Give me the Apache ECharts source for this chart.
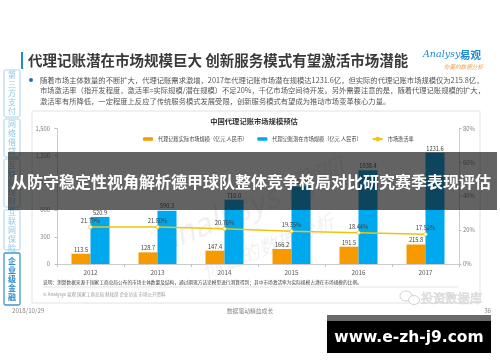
<!DOCTYPE html>
<html><head><meta charset="utf-8">
<script src="https://cdn.jsdelivr.net/npm/echarts/dist/echarts.min.js"></script>
<style>html,body{margin:0;padding:0;background:#fff}#c{width:500px;height:362px}</style>
</head><body><div id="c"></div>
<script>
// ---- data ----
const years = ['2012', '2013', '2014', '2015', '2016', '2017'];
const actualSize = [113.5, 128.7, 147.4, 166.2, 191.5, 215.8];
const potentialSize = [520.9, 590.3, 710.0, 858.9, 1038.4, 1231.6];
const activationRate = [21.79, 21.80, 20.76, 19.35, 18.44, 17.52];
const seriesNames = ['代理记账实际市场规模（亿元 人民币）', '代理记账潜在市场规模（亿元 人民币）', '市场激活率'];
const chartTitle = '中国代理记账市场规模预估';
const pageTitle = '代理记账潜在市场规模巨大 创新服务模式有望激活市场潜能';
const bulletLines = [
  '随着市场主体数量的不断扩大，代理记账需求激增，2017年代理记账市场潜在规模达1231.6亿，但实际的代理记账市场规模仅为215.8亿，',
  '市场激活率（指开发程度，激活率=实际规模/潜在规模）不足20%，千亿市场空间待开发。另外需要注意的是，随着代理记账规模的扩大，',
  '激活率有所降低，一定程度上反应了传统服务模式发展受限，创新服务模式有望成为推动市场变革核心力量。'
];
const sideMenu = ['第三方支付', '网络借贷', '互联网理财', '互联网保险', '企业级金融'];
const noteText = '说明：测算数据来源于国家工商总局公布的市场主体数量及结构，通过期现方法论模型进行测算得到；其中市场激活率为实际规模占潜在市场规模的比例。';
const sourceText = '© Analysys 易观 国家工商总局 财政部 企业访谈 市场公开资料';
const footerDate = '2018/10/29';
const footerSlogan = '数据驱动精益成长';
const pageNo = '36';
const bannerText = '从防守稳定性视角解析德甲球队整体竞争格局对比研究赛季表现评估';
const siteText = 'www.e-zh-j9.com';

const F = '"Noto Sans CJK SC","Noto Sans",sans-serif';
const ORANGE = '#F79A00', BLUE = '#00A8EE', YELLOW = '#F4C20D';

const chart = echarts.init(document.getElementById('c'), null, {renderer: 'canvas'});

const g = [];
// page header
g.push({type: 'rect', shape: {x: 21, y: 52, width: 2, height: 17}, style: {fill: '#1B8AD8'}});
g.push({type: 'text', style: {text: pageTitle, x: 28, y: 60.5, font: 'bold 14.5px ' + F, fill: '#3A3A3A', textVerticalAlign: 'middle'}});
g.push({type: 'text', style: {text: 'Analysys', x: 423, y: 55, font: 'italic 9.5px "DejaVu Serif",serif', fill: '#1E88D2', textVerticalAlign: 'middle'}});
g.push({type: 'text', style: {text: '易观', x: 460, y: 55, font: 'bold 10.5px ' + F, fill: '#1E88D2', textVerticalAlign: 'middle'}});
g.push({type: 'text', style: {text: '你要的数据分析', x: 483, y: 66.5, font: 'italic 5.6px ' + F, fill: '#F0A040', textAlign: 'right', textVerticalAlign: 'middle'}});
g.push({type: 'circle', shape: {cx: 31, cy: 80, r: 2}, style: {fill: '#1B6FC8'}});
bulletLines.forEach((t, i) => g.push({type: 'text', style: {text: t, x: 40, y: 80 + i * 10.5, font: '7.3px ' + F, fill: '#555', textVerticalAlign: 'middle'}}));

// side menu
const boxes = [[70, 117], [119, 157], [159, 207], [210, 250], [253, 305]];
sideMenu.forEach((t, i) => {
  const [y0, y1] = boxes[i];
  const hl = i === 4;
  g.push({type: 'rect', shape: {x: 4, y: y0, width: 16, height: y1 - y0, r: 1.5},
    style: {fill: '#fff', stroke: hl ? '#3E97CF' : '#9CCBE6', lineWidth: hl ? 1.3 : 0.9}});
  const n = t.length, sp = 9, cy = (y0 + y1) / 2 - 0.5;
  for (let k = 0; k < n; k++) {
    g.push({type: 'text', style: {text: t[k], x: 12, y: cy + (k - (n - 1) / 2) * sp,
      font: (hl ? 'bold ' : '') + '8px ' + F, fill: hl ? '#2A8BD0' : '#8EC7E8', textAlign: 'center', textVerticalAlign: 'middle'}});
  }
});

// chart panel
g.push({type: 'rect', shape: {x: 32, y: 111, width: 448, height: 192}, style: {fill: 'none', stroke: '#DADADA', lineWidth: 0.8}});
g.push({type: 'text', style: {text: chartTitle, x: 254, y: 121.5, font: 'bold 7.3px ' + F, fill: '#333', textAlign: 'center', textVerticalAlign: 'middle'}});
// faint watermark
g.push({type: 'text', rotation: 0.38, x: 250, y: 205, style: {text: 'Analysys 易观', x: 0, y: 0, font: 'italic 32px ' + F, fill: 'rgba(0,0,0,0.06)', textAlign: 'center', textVerticalAlign: 'middle'}});
g.push({type: 'text', rotation: 0.38, x: 268, y: 246, style: {text: '你要的数据分析', x: 0, y: 0, font: 'italic 20px ' + F, fill: 'rgba(0,0,0,0.06)', textAlign: 'center', textVerticalAlign: 'middle'}});
// notes
g.push({type: 'text', style: {text: noteText, x: 43, y: 282.5, font: '4.7px ' + F, fill: '#444', textVerticalAlign: 'middle'}});
g.push({type: 'line', shape: {x1: 43, y1: 287, x2: 458, y2: 287}, style: {stroke: '#D0D0D0', lineWidth: 0.6}});
g.push({type: 'text', style: {text: sourceText, x: 43, y: 294.5, font: '4.5px ' + F, fill: '#9A9A9A', textVerticalAlign: 'middle'}});
// footer
g.push({type: 'text', style: {text: footerDate, x: 12, y: 311, font: '6.2px ' + F, fill: '#888', textVerticalAlign: 'middle'}});
g.push({type: 'text', style: {text: footerSlogan, x: 250, y: 311, font: '5.8px ' + F, fill: '#888', textAlign: 'center', textVerticalAlign: 'middle'}});
g.push({type: 'text', style: {text: pageNo, x: 491, y: 311, font: '6.2px ' + F, fill: '#888', textAlign: 'right', textVerticalAlign: 'middle'}});
// wechat watermark
g.push({type: 'ellipse', shape: {cx: 406, cy: 296, rx: 6, ry: 5}, style: {fill: 'none', stroke: '#C4C4C4', lineWidth: 0.8}, z: 50});
g.push({type: 'ellipse', shape: {cx: 414, cy: 300, rx: 5.5, ry: 4.5}, style: {fill: '#fff', stroke: '#C4C4C4', lineWidth: 0.8}, z: 50});
g.push({type: 'text', z: 50, style: {text: '投资数据库', x: 421, y: 298.5, font: '12.2px ' + F, fill: '#E2E2E2', stroke: '#B4B4B4', lineWidth: 0.35, textVerticalAlign: 'middle'}});
// overlay banner
g.push({type: 'rect', z: 100, shape: {x: 8, y: 152, width: 489, height: 58}, style: {fill: 'rgba(18,18,18,0.66)'}});
g.push({type: 'text', z: 101, style: {text: bannerText, x: 251, y: 182, font: 'bold 16px ' + F, fill: '#fff', textAlign: 'center', textVerticalAlign: 'middle'}});
// site badge
g.push({type: 'rect', z: 100, shape: {x: 327, y: 315, width: 164, height: 38}, style: {fill: '#000'}});
g.push({type: 'rect', z: 101, shape: {x: 327, y: 315, width: 164, height: 6}, style: {fill: '#6A6A6A'}});
g.push({type: 'text', z: 102, style: {text: siteText, x: 409, y: 337.5, font: 'bold 15.5px "DejaVu Sans",sans-serif', fill: '#fff', textAlign: 'center', textVerticalAlign: 'middle'}});

const lblStyle = {show: true, position: 'top', distance: 1.5, fontSize: 5.7, color: '#404040', fontFamily: F};

chart.setOption({
  animation: false,
  textStyle: {fontFamily: F},
  grid: {left: 57, right: 41, top: 128.5, bottom: 98},
  legend: {
    left: 138, top: 131.5, itemWidth: 10, itemHeight: 3.5, itemGap: 10,
    textStyle: {fontSize: 5.2, color: '#404040'},
    data: seriesNames
  },
  xAxis: {
    type: 'category', data: years,
    axisLine: {lineStyle: {color: '#BFBFBF', width: 0.8}},
    axisTick: {show: true, length: 3, lineStyle: {color: '#BFBFBF'}},
    axisLabel: {fontSize: 6.3, color: '#595959', margin: 5}
  },
  yAxis: [
    {type: 'value', min: 0, max: 1500, interval: 300,
      axisLine: {show: true, lineStyle: {color: '#BFBFBF', width: 0.8}},
      axisTick: {show: true, length: 2.5, lineStyle: {color: '#BFBFBF'}},
      splitLine: {show: false},
      axisLabel: {fontSize: 5.8, color: '#7F7F7F', margin: 7, formatter: v => v.toLocaleString('en-US')}},
    {type: 'value', min: 0, max: 80, interval: 20,
      axisLine: {show: true, lineStyle: {color: '#BFBFBF', width: 0.8}},
      axisTick: {show: true, length: 2.5, lineStyle: {color: '#BFBFBF'}},
      splitLine: {show: false},
      axisLabel: {fontSize: 5.8, color: '#7F7F7F', margin: 4, formatter: '{value}%'}}
  ],
  series: [
    {name: seriesNames[0], type: 'bar', data: actualSize, barWidth: 19, barGap: '0%',
      itemStyle: {color: ORANGE}, label: Object.assign({}, lblStyle, {formatter: p => p.value.toFixed(1)})},
    {name: seriesNames[1], type: 'bar', data: potentialSize, barWidth: 19, barGap: '0%',
      itemStyle: {color: BLUE}, label: Object.assign({}, lblStyle, {formatter: p => p.value.toFixed(1)})},
    {name: seriesNames[2], type: 'line', yAxisIndex: 1, data: activationRate, z: 5,
      symbol: 'circle', symbolSize: 3.5, showAllSymbol: true,
      lineStyle: {color: YELLOW, width: 1.5},
      itemStyle: {color: '#fff', borderColor: YELLOW, borderWidth: 0.8},
      label: Object.assign({}, lblStyle, {distance: 1, formatter: p => p.value.toFixed(2) + '%'})}
  ],
  graphic: g
});
</script>
</body></html>
